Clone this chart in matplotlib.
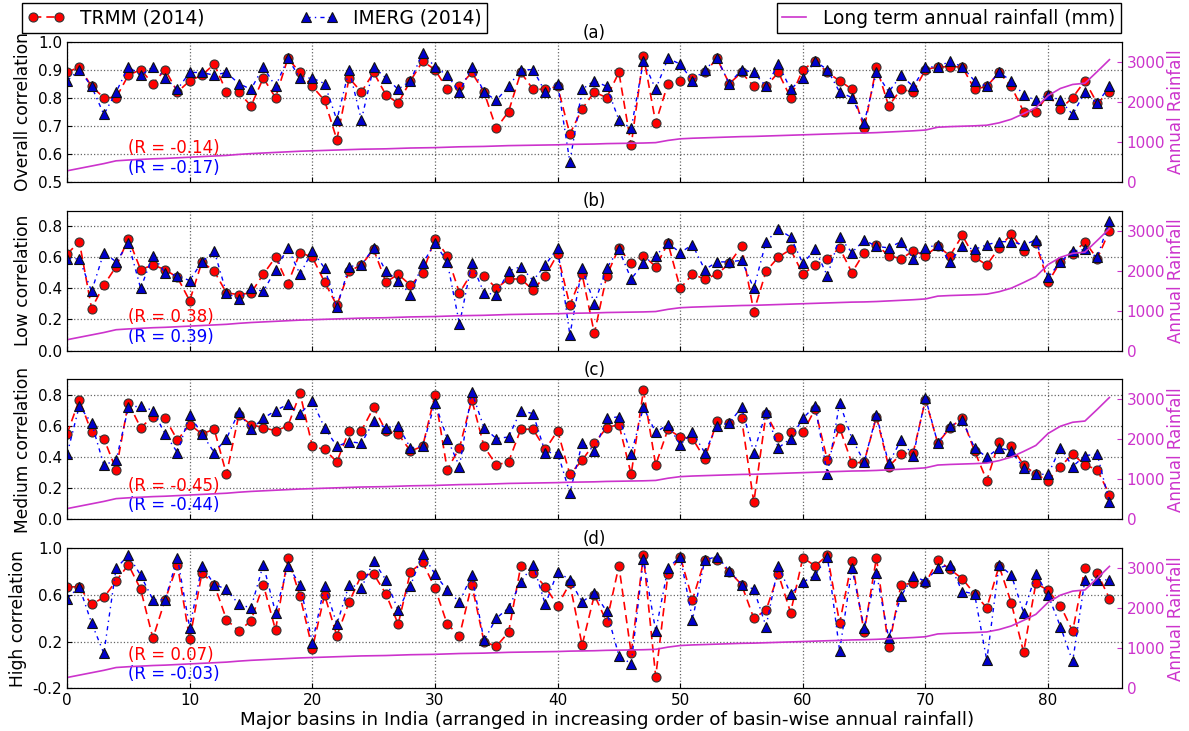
import numpy as np
import matplotlib
matplotlib.use("Agg")
import matplotlib.pyplot as plt

# basins sorted by long term annual rainfall
basins = np.arange(86)

rainfall = [270, 330, 390, 450, 520, 540, 555, 570, 580, 595,
            610, 625, 640, 655, 680, 700, 715, 730, 745, 760,
            770, 780, 790, 800, 810, 815, 820, 830, 840, 845,
            850, 860, 870, 875, 880, 890, 900, 905, 910, 915,
            920, 930, 935, 940, 950, 955, 960, 965, 975, 1030,
            1070, 1085, 1095, 1105, 1115, 1125, 1130, 1140, 1150, 1160,
            1170, 1180, 1190, 1200, 1210, 1215, 1225, 1240, 1255, 1270,
            1290, 1360, 1375, 1385, 1395, 1410, 1470, 1560, 1700, 1850,
            2150, 2330, 2430, 2460, 2750, 3050]

overall_trmm = [0.89, 0.91, 0.84, 0.80, 0.80, 0.88, 0.90, 0.85, 0.90, 0.82,
                0.86, 0.88, 0.92, 0.82, 0.82, 0.77, 0.87, 0.80, 0.94, 0.89,
                0.84, 0.79, 0.65, 0.87, 0.82, 0.89, 0.81, 0.78, 0.86, 0.93,
                0.90, 0.83, 0.84, 0.89, 0.82, 0.69, 0.75, 0.89, 0.83, 0.83,
                0.84, 0.67, 0.76, 0.82, 0.80, 0.89, 0.63, 0.95, 0.71, 0.85,
                0.86, 0.87, 0.89, 0.94, 0.85, 0.89, 0.84, 0.84, 0.89, 0.80,
                0.90, 0.93, 0.89, 0.86, 0.83, 0.69, 0.91, 0.77, 0.83, 0.82,
                0.90, 0.91, 0.91, 0.91, 0.83, 0.84, 0.89, 0.84, 0.75, 0.75,
                0.81, 0.76, 0.80, 0.86, 0.78, 0.82]
overall_imerg = [0.86, 0.90, 0.84, 0.74, 0.82, 0.91, 0.88, 0.91, 0.87, 0.83,
                 0.89, 0.89, 0.88, 0.89, 0.85, 0.83, 0.91, 0.84, 0.94, 0.87,
                 0.87, 0.85, 0.72, 0.90, 0.72, 0.91, 0.87, 0.83, 0.86, 0.96,
                 0.91, 0.88, 0.82, 0.91, 0.82, 0.79, 0.84, 0.90, 0.90, 0.82,
                 0.85, 0.57, 0.83, 0.86, 0.84, 0.72, 0.69, 0.93, 0.83, 0.94,
                 0.92, 0.86, 0.90, 0.94, 0.85, 0.90, 0.89, 0.84, 0.92, 0.83,
                 0.87, 0.93, 0.90, 0.82, 0.80, 0.71, 0.89, 0.82, 0.88, 0.84,
                 0.91, 0.91, 0.93, 0.91, 0.86, 0.84, 0.89, 0.86, 0.81, 0.79,
                 0.81, 0.79, 0.74, 0.82, 0.78, 0.84]

low_trmm = [0.62, 0.70, 0.27, 0.42, 0.54, 0.72, 0.52, 0.55, 0.52, 0.47,
            0.32, 0.57, 0.51, 0.37, 0.36, 0.37, 0.49, 0.60, 0.43, 0.63,
            0.60, 0.44, 0.29, 0.51, 0.55, 0.65, 0.44, 0.49, 0.42, 0.50,
            0.72, 0.61, 0.37, 0.50, 0.48, 0.40, 0.46, 0.46, 0.39, 0.48,
            0.62, 0.29, 0.49, 0.11, 0.48, 0.66, 0.56, 0.61, 0.54, 0.69,
            0.40, 0.49, 0.46, 0.49, 0.56, 0.67, 0.25, 0.51, 0.60, 0.65,
            0.49, 0.55, 0.59, 0.66, 0.50, 0.63, 0.68, 0.61, 0.59, 0.64,
            0.61, 0.67, 0.61, 0.74, 0.60, 0.55, 0.66, 0.75, 0.64, 0.69,
            0.44, 0.57, 0.62, 0.70, 0.59, 0.77]
low_imerg = [0.59, 0.59, 0.38, 0.63, 0.57, 0.69, 0.40, 0.61, 0.50, 0.48,
             0.45, 0.57, 0.64, 0.37, 0.33, 0.40, 0.38, 0.52, 0.66, 0.49,
             0.64, 0.53, 0.28, 0.54, 0.55, 0.66, 0.51, 0.45, 0.36, 0.56,
             0.69, 0.57, 0.17, 0.56, 0.37, 0.36, 0.51, 0.54, 0.45, 0.55,
             0.66, 0.10, 0.53, 0.30, 0.53, 0.65, 0.46, 0.56, 0.61, 0.69,
             0.63, 0.68, 0.52, 0.57, 0.57, 0.58, 0.40, 0.70, 0.78, 0.73,
             0.56, 0.65, 0.48, 0.73, 0.63, 0.71, 0.67, 0.66, 0.70, 0.59,
             0.66, 0.68, 0.57, 0.67, 0.65, 0.68, 0.70, 0.70, 0.68, 0.71,
             0.47, 0.57, 0.64, 0.65, 0.60, 0.83]

medium_trmm = [0.55, 0.77, 0.56, 0.52, 0.32, 0.75, 0.59, 0.66, 0.65, 0.51,
               0.61, 0.55, 0.58, 0.29, 0.67, 0.61, 0.59, 0.57, 0.60, 0.81,
               0.47, 0.45, 0.37, 0.57, 0.57, 0.72, 0.57, 0.55, 0.44, 0.47,
               0.80, 0.32, 0.46, 0.77, 0.47, 0.35, 0.37, 0.58, 0.58, 0.45,
               0.57, 0.29, 0.38, 0.49, 0.59, 0.61, 0.29, 0.83, 0.35, 0.58,
               0.53, 0.52, 0.39, 0.63, 0.62, 0.65, 0.11, 0.68, 0.53, 0.56,
               0.56, 0.71, 0.38, 0.59, 0.36, 0.37, 0.66, 0.34, 0.42, 0.43,
               0.77, 0.49, 0.59, 0.65, 0.44, 0.25, 0.50, 0.47, 0.35, 0.29,
               0.25, 0.34, 0.42, 0.35, 0.32, 0.16]
medium_imerg = [0.42, 0.73, 0.62, 0.35, 0.38, 0.72, 0.73, 0.70, 0.55, 0.43,
                0.67, 0.55, 0.43, 0.52, 0.69, 0.58, 0.65, 0.70, 0.74, 0.68,
                0.76, 0.59, 0.47, 0.50, 0.49, 0.63, 0.59, 0.60, 0.46, 0.47,
                0.75, 0.52, 0.34, 0.82, 0.59, 0.52, 0.53, 0.70, 0.68, 0.43,
                0.43, 0.17, 0.49, 0.44, 0.65, 0.66, 0.42, 0.72, 0.56, 0.61,
                0.48, 0.56, 0.43, 0.60, 0.62, 0.72, 0.43, 0.69, 0.46, 0.52,
                0.65, 0.73, 0.29, 0.75, 0.52, 0.37, 0.67, 0.36, 0.51, 0.41,
                0.78, 0.49, 0.60, 0.64, 0.46, 0.40, 0.46, 0.44, 0.33, 0.29,
                0.29, 0.46, 0.34, 0.41, 0.42, 0.11]

high_trmm = [0.67, 0.67, 0.52, 0.58, 0.72, 0.86, 0.65, 0.23, 0.56, 0.86,
             0.22, 0.79, 0.69, 0.39, 0.29, 0.38, 0.69, 0.30, 0.92, 0.59,
             0.14, 0.60, 0.25, 0.54, 0.77, 0.78, 0.61, 0.35, 0.80, 0.88,
             0.66, 0.35, 0.25, 0.69, 0.20, 0.16, 0.28, 0.85, 0.79, 0.67,
             0.51, 0.70, 0.17, 0.60, 0.37, 0.85, 0.10, 0.94, -0.10, 0.78,
             0.93, 0.56, 0.90, 0.90, 0.80, 0.69, 0.40, 0.47, 0.78, 0.45,
             0.92, 0.85, 0.94, 0.36, 0.89, 0.28, 0.92, 0.15, 0.69, 0.70,
             0.70, 0.90, 0.82, 0.74, 0.61, 0.49, 0.85, 0.53, 0.11, 0.70,
             0.64, 0.51, 0.29, 0.83, 0.79, 0.57]
high_imerg = [0.57, 0.67, 0.36, 0.10, 0.83, 0.94, 0.77, 0.56, 0.56, 0.92,
              0.32, 0.85, 0.69, 0.65, 0.52, 0.49, 0.86, 0.45, 0.85, 0.69,
              0.19, 0.68, 0.35, 0.69, 0.66, 0.89, 0.73, 0.47, 0.68, 0.95,
              0.78, 0.64, 0.54, 0.77, 0.21, 0.40, 0.49, 0.71, 0.86, 0.52,
              0.80, 0.73, 0.54, 0.62, 0.46, 0.08, 0.01, 0.91, 0.29, 0.83,
              0.93, 0.39, 0.90, 0.93, 0.81, 0.69, 0.65, 0.33, 0.85, 0.61,
              0.71, 0.77, 0.93, 0.12, 0.83, 0.32, 0.79, 0.23, 0.59, 0.76,
              0.72, 0.83, 0.86, 0.63, 0.61, 0.04, 0.86, 0.77, 0.45, 0.78,
              0.60, 0.33, 0.03, 0.73, 0.73, 0.73]

panel_tags = ["(a)", "(b)", "(c)", "(d)"]
panel_ylabels = ["Overall correlation", "Low correlation",
                 "Medium correlation", "High correlation"]
r_trmm = ["(R = -0.14)", "(R = 0.38)", "(R = -0.45)", "(R = 0.07)"]
r_imerg = ["(R = -0.17)", "(R = 0.39)", "(R = -0.44)", "(R = -0.03)"]

series = [(overall_trmm, overall_imerg), (low_trmm, low_imerg),
          (medium_trmm, medium_imerg), (high_trmm, high_imerg)]
ylims = [(0.5, 1.0), (0.0, 0.9), (0.0, 0.9), (-0.2, 1.0)]
yticks = [[0.5, 0.6, 0.7, 0.8, 0.9, 1.0], [0.0, 0.2, 0.4, 0.6, 0.8],
          [0.0, 0.2, 0.4, 0.6, 0.8], [-0.2, 0.2, 0.6, 1.0]]

MAG = "#cc33cc"

plt.rcParams["font.family"] = "DejaVu Sans"
plt.rcParams["xtick.direction"] = "in"
plt.rcParams["ytick.direction"] = "in"

fig, axes = plt.subplots(4, 1, sharex=True, figsize=(11.89, 7.31), dpi=100)
fig.subplots_adjust(left=0.0564, right=0.9434, top=0.943, bottom=0.0584, hspace=0.207)

for k, ax in enumerate(axes):
    trmm, imerg = series[k]
    ax.plot(basins, trmm, color="red", ls="--", lw=1.2, marker="o", ms=6.5,
            mfc="red", mec="#333333", mew=0.8, dashes=(5, 3), label="TRMM (2014)")
    ax.plot(basins, imerg, color="blue", ls="-.", lw=1.0, marker="^", ms=7,
            mfc="#0000cc", mec="#111111", mew=0.8, dashes=(3, 3, 1, 3),
            label="IMERG (2014)")
    ax.set_xlim(0, 86)
    ax.set_ylim(*ylims[k])
    ax.set_yticks(yticks[k])
    ax.set_yticklabels(["%.1f" % v for v in yticks[k]])
    ax.grid(True, ls=":", color="#666666", lw=0.9)
    ax.tick_params(labelsize=11)
    ax.set_ylabel(panel_ylabels[k], fontsize=12.3)
    ax.set_title(panel_tags[k], fontsize=12, pad=3)
    ax.text(0.058, 0.24, r_trmm[k], color="red", fontsize=12,
            transform=ax.transAxes, va="center")
    ax.text(0.058, 0.10, r_imerg[k], color="blue", fontsize=12,
            transform=ax.transAxes, va="center")

    ax2 = ax.twinx()
    ax2.plot(basins, rainfall, color=MAG, lw=1.2, label="Long term annual rainfall (mm)")
    ax2.set_ylim(0, 3500)
    ax2.set_yticks([0, 1000, 2000, 3000])
    ax2.tick_params(axis="y", colors=MAG, labelsize=11)
    ax2.set_ylabel("Annual Rainfall", color=MAG, fontsize=12, labelpad=1)

axes[-1].set_xticks(np.arange(0, 81, 10))
axes[-1].set_xlabel("Major basins in India (arranged in increasing order of basin-wise annual rainfall)",
                    fontsize=13.2, labelpad=2)
axes[-1].xaxis.label.set_x(0.512)

# legends sit above the first panel
h1, l1 = axes[0].get_legend_handles_labels()
leg1 = fig.legend(h1, l1, loc="upper left", bbox_to_anchor=(0.0185, 0.948, 0.391, 0.048),
                  mode="expand", ncol=2, numpoints=2, fontsize=13.4, borderaxespad=0,
                  borderpad=0.3, fancybox=False, framealpha=1, edgecolor="black",
                  handlelength=2.0)
leg1.get_frame().set_linewidth(1.0)
rain_line = fig.axes[4].get_lines()[0]
leg2 = fig.legend([rain_line], [rain_line.get_label()], loc="upper right",
                  bbox_to_anchor=(0.9428, 0.996), fontsize=13.4, borderaxespad=0,
                  borderpad=0.3, fancybox=False, framealpha=1, edgecolor="black",
                  handlelength=1.3, handletextpad=0.9)
leg2.get_frame().set_linewidth(1.0)

fig.savefig("out.png", dpi=100)
